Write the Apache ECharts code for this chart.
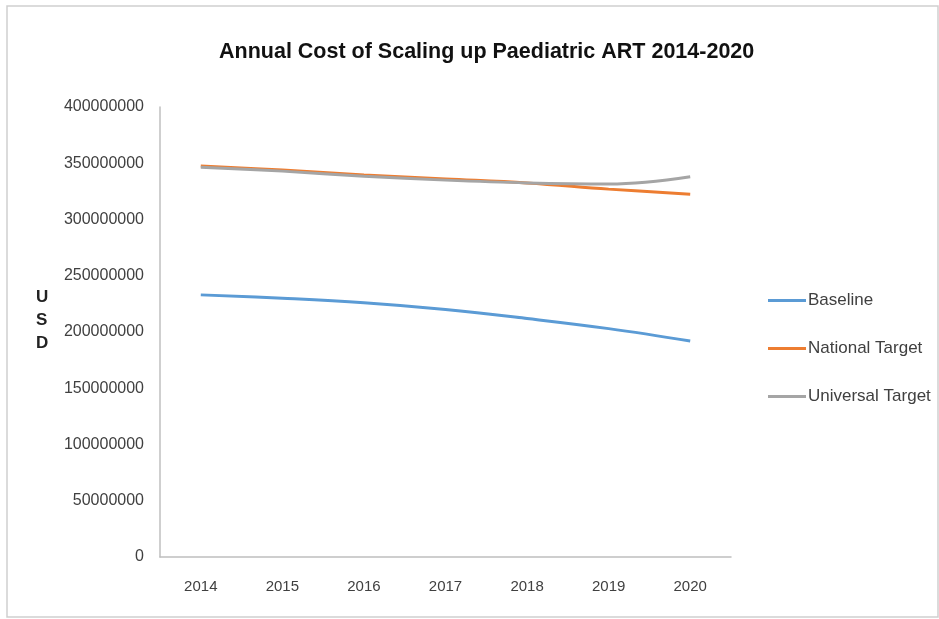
<!DOCTYPE html>
<html>
<head>
<meta charset="utf-8">
<script src="https://cdn.jsdelivr.net/npm/echarts@6/dist/echarts.min.js"></script>
<style>html,body{margin:0;padding:0;background:#fff;}#c{width:939px;height:619px;}</style>
</head>
<body>
<div id="c"></div>
<script>
var years = ['2014','2015','2016','2017','2018','2019','2020'];
var baseline = [233000000, 230000000, 226000000, 220000000, 212000000, 203000000, 192000000];
var nationalTarget = [347500000, 344000000, 339500000, 336000000, 332500000, 327000000, 322500000];
var universalTarget = [346500000, 343000000, 338500000, 335000000, 332500000, 331500000, 338000000];
var seriesNames = ['Baseline', 'National Target', 'Universal Target'];
var colors = ['#5B9BD5', '#ED7D31', '#A5A5A5'];

var FONT = "'Liberation Sans Narrow', 'Arial Narrow', 'Liberation Sans', sans-serif";
var chart = echarts.init(document.getElementById('c'), null, {renderer: 'canvas'});
function mk(name, data, color) {
  return {name: name, type: 'line', data: data, smooth: 0.4, symbol: 'none',
    lineStyle: {color: color, width: 3}, itemStyle: {color: color}};
}
chart.setOption({
  animation: false,
  backgroundColor: '#fff',
  color: colors,
  title: {text: 'Annual Cost of Scaling up Paediatric ART 2014-2020', left: 214, top: 36,
    textStyle: {fontFamily: FONT, fontWeight: 'bold', fontSize: 21.5, color: '#111'}},
  grid: {left: 160, right: 208, top: 107, bottom: 62, containLabel: false},
  legend: {orient: 'vertical', left: 763, top: 287, itemGap: 31, itemWidth: 38, itemHeight: 3, icon: 'rect',
    data: seriesNames,
    textStyle: {fontFamily: FONT, fontSize: 17, color: '#404040', padding: [0,0,0,-3]}},
  xAxis: {type: 'category', data: years, boundaryGap: true,
    axisLine: {lineStyle: {color: '#bfbfbf', width: 1.5}}, axisTick: {show: false},
    axisLabel: {fontFamily: FONT, fontSize: 15, color: '#404040', margin: 22}},
  yAxis: {type: 'value', min: 0, max: 400000000, interval: 50000000,
    axisLine: {show: true, lineStyle: {color: '#bfbfbf', width: 1.5}}, axisTick: {show: false},
    splitLine: {show: false},
    axisLabel: {fontFamily: FONT, fontSize: 16, color: '#404040', margin: 16,
      formatter: function (v) { return String(v); }}},
  graphic: [
    {type: 'rect', shape: {x: 7, y: 6, width: 931, height: 611}, style: {fill: 'none', stroke: '#cfcfcf', lineWidth: 1.5}},
    {type: 'text', left: 36, top: 286, style: {text: 'U\nS\nD', fontFamily: FONT, fontWeight: 'bold', fontSize: 17, lineHeight: 23, fill: '#222', align: 'center'}}
  ],
  series: [mk(seriesNames[0], baseline, colors[0]), mk(seriesNames[1], nationalTarget, colors[1]), mk(seriesNames[2], universalTarget, colors[2])]
});
</script>
</body>
</html>
